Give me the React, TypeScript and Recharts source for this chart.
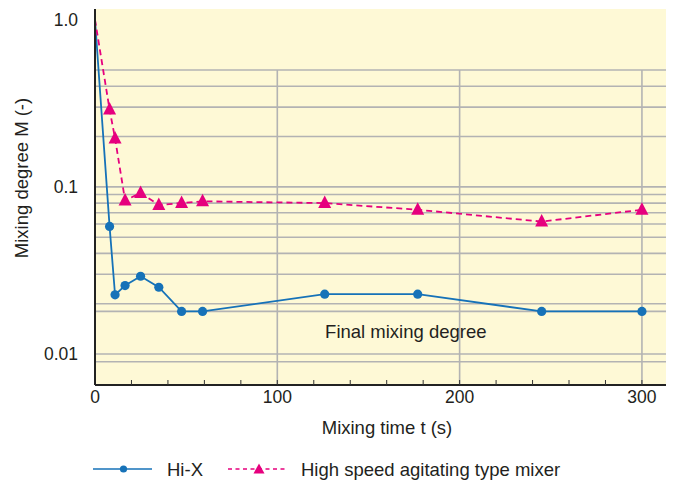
import React from 'react';
import {
  LineChart,
  Line,
  XAxis,
  YAxis,
  CartesianGrid,
  ReferenceLine,
  ReferenceDot,
  Legend,
  Label,
} from 'recharts';

// ---- data ----
const mixingTime = [0, 8, 11, 16.5, 25, 35, 47.5, 59, 126, 177, 245, 300];
const hiXDegree = [1.0, 0.058, 0.0226, 0.0257, 0.0292, 0.0251, 0.018, 0.018, 0.0228, 0.0228, 0.018, 0.018];
const mixerDegree = [1.0, 0.29, 0.195, 0.083, 0.092, 0.078, 0.08, 0.082, 0.08, 0.073, 0.062, 0.073];

const xTicks = [0, 20, 40, 60, 80, 100, 120, 140, 160, 180, 200, 220, 240, 260, 280, 300];
const xLabelled = [0, 100, 200, 300];
const yTicks = [0.01, 0.1, 1];
const yTickLabels = ['0.01', '0.1', '1.0'];
const gridY = [0.5, 0.4, 0.3, 0.2, 0.1, 0.09, 0.08, 0.07, 0.06, 0.05, 0.04, 0.03, 0.02, 0.01, 0.009];
const gridX = [100, 200, 300];
const finalDegree = 0.018;
const finalLabel = 'Final mixing degree';
const finalLabelAt = { x: 170.5, y: 0.0136 };

const seriesNames = ['Hi-X', 'High speed agitating type mixer'];

const data = mixingTime.map((t, i) => ({ t, hix: hiXDegree[i], mixer: mixerDegree[i] }));

const X_DOMAIN: [number, number] = [0, 313.2];
const Y_DOMAIN: [number, number] = [0.00653, 1.159];

const BLUE = '#1672b8';
const PINK = '#e6007e';
const GRID = '#b3b3b3';
const TEXT = '#231f20';
const BG = '#fef9d6';
const FONT = '"Liberation Sans", Arial, Helvetica, sans-serif';

const CircleDot = (props: any) => {
  const { cx, cy, index } = props;
  if (index === 0 || cx == null || cy == null) return <g key={`c${index}`} />;
  return <circle key={`c${index}`} cx={cx} cy={cy} r={4.6} fill={BLUE} stroke="none" />;
};

const TriangleDot = (props: any) => {
  const { cx, cy, index } = props;
  if (index === 0 || cx == null || cy == null) return <g key={`t${index}`} />;
  const pts = `${cx},${cy - 7.5} ${cx - 6.5},${cy + 5} ${cx + 6.5},${cy + 5}`;
  return <polygon key={`t${index}`} points={pts} fill={PINK} stroke="none" />;
};

const LegendContent = () => (
  <svg width={690} height={26} style={{ display: 'block' }}>
    <line x1={93} x2={152} y1={13} y2={13} stroke={BLUE} strokeWidth={1.6} />
    <circle cx={123.5} cy={13} r={3.6} fill={BLUE} />
    <text x={167} y={13} dominantBaseline="central" fontSize={18.5} fill={TEXT} fontFamily={FONT}>
      {seriesNames[0]}
    </text>
    <line x1={228} x2={287} y1={13} y2={13} stroke={PINK} strokeWidth={1.6} strokeDasharray="4 3.5" />
    <polygon points="259,7.5 253.5,17.5 264.5,17.5" fill={PINK} />
    <text x={301} y={13} dominantBaseline="central" fontSize={18.5} fill={TEXT} fontFamily={FONT}>
      {seriesNames[1]}
    </text>
  </svg>
);

const XTick = (props: any) => {
  const { x, y, payload } = props;
  if (!xLabelled.includes(payload.value)) return <g />;
  return (
    <text x={x} y={y} textAnchor="middle" dominantBaseline="central" fontSize={17.5} fill={TEXT} fontFamily={FONT}>
      {payload.value}
    </text>
  );
};

const YTick = (props: any) => {
  const { x, y, payload } = props;
  const i = yTicks.indexOf(payload.value);
  return (
    <text x={x} y={y} textAnchor="end" dominantBaseline="central" fontSize={17.5} fill={TEXT} fontFamily={FONT}>
      {i >= 0 ? yTickLabels[i] : ''}
    </text>
  );
};

export default function App() {
  return (
    <div style={{ position: 'absolute', left: 0, top: 0, width: 690, height: 480, background: '#fff' }}>
      <LineChart
        width={690}
        height={480}
        data={data}
        margin={{ top: 9, right: 24, left: 0, bottom: 39 }}
        style={{ fontFamily: FONT }}
      >
        <CartesianGrid horizontal={false} vertical={false} fill={BG} stroke="none" />
        {gridY.map((v) => (
          <ReferenceLine key={`gy${v}`} y={v} stroke={GRID} strokeWidth={1.6} />
        ))}
        <ReferenceLine y={finalDegree} stroke={GRID} strokeWidth={1.6} />
        {gridX.map((v) => (
          <ReferenceLine
            key={`gx${v}`}
            segment={[
              { x: v, y: 0.5 },
              { x: v, y: Y_DOMAIN[0] },
            ]}
            stroke={GRID}
            strokeWidth={1.6}
          />
        ))}
        <ReferenceDot
          x={finalLabelAt.x}
          y={finalLabelAt.y}
          r={0}
          fill="none"
          stroke="none"
          label={{ value: finalLabel, position: 'center', fill: TEXT, fontSize: 18.5, fontFamily: FONT }}
        />
        <XAxis
          dataKey="t"
          type="number"
          domain={X_DOMAIN}
          allowDataOverflow
          ticks={xTicks}
          interval={0}
          height={30}
          tickSize={-5}
          tickMargin={17}
          tick={<XTick />}
          axisLine={{ stroke: '#222', strokeWidth: 2 }}
          tickLine={{ stroke: '#333', strokeWidth: 1 }}
        >
          <Label
            content={() => (
              <text x={387} y={427} textAnchor="middle" dominantBaseline="central" fontSize={18.5} fill={TEXT} fontFamily={FONT}>
                Mixing time t (s)
              </text>
            )}
          />
        </XAxis>
        <YAxis
          type="number"
          scale="log"
          domain={Y_DOMAIN}
          allowDataOverflow
          ticks={yTicks}
          interval={0}
          width={95}
          tickLine={false}
          tickSize={0}
          tickMargin={17}
          tick={<YTick />}
          axisLine={{ stroke: '#222', strokeWidth: 2 }}
        >
          <Label
            content={() => (
              <text
                x={21}
                y={178}
                transform="rotate(-90 21 178)"
                textAnchor="middle"
                dominantBaseline="central"
                fontSize={18.5}
                fill={TEXT}
                fontFamily={FONT}
              >
                Mixing degree M (-)
              </text>
            )}
          />
        </YAxis>
        <Line
          dataKey="hix"
          name={seriesNames[0]}
          type="linear"
          stroke={BLUE}
          strokeWidth={1.8}
          dot={<CircleDot />}
          activeDot={false}
          isAnimationActive={false}
        />
        <Line
          dataKey="mixer"
          name={seriesNames[1]}
          type="linear"
          stroke={PINK}
          strokeWidth={1.8}
          strokeDasharray="6 4"
          dot={<TriangleDot />}
          activeDot={false}
          isAnimationActive={false}
        />
        <Legend
          verticalAlign="bottom"
          content={<LegendContent />}
          wrapperStyle={{ left: 0, width: 690, height: 26, top: 456, bottom: 'auto' }}
        />
      </LineChart>
    </div>
  );
}
